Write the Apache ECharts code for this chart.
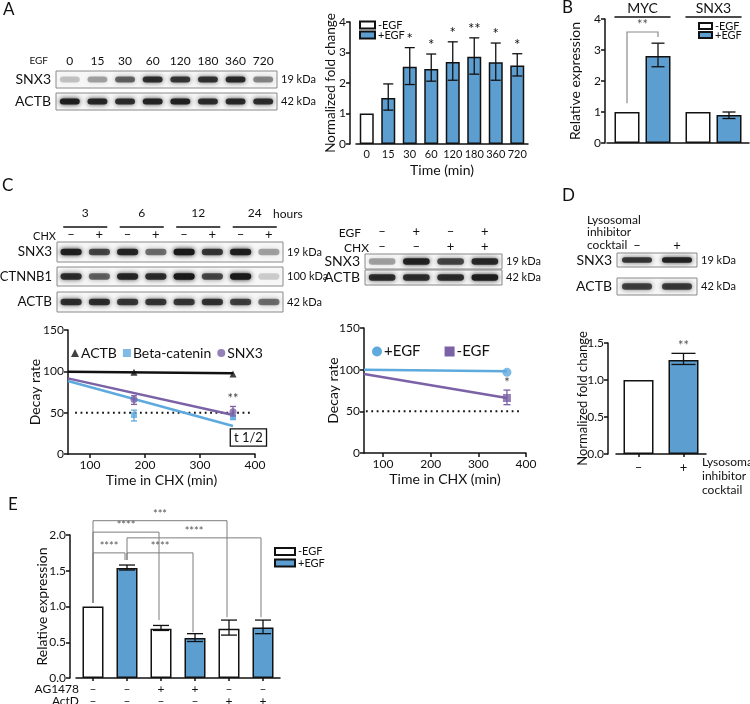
<!DOCTYPE html>
<html><head><meta charset="utf-8">
<script src="https://cdn.jsdelivr.net/npm/echarts@6/dist/echarts.min.js"></script>
<style>html,body{margin:0;padding:0;background:#fff}#c{width:750px;height:704px}</style>
</head><body><div id="c"></div>
<script>
// ================= DATA =================
// Panel A blot + bar chart
const timeCats   = ['0','15','30','60','120','180','360','720'];
const blotA_SNX3 = [0.22,0.35,0.60,0.85,0.80,0.82,0.88,0.45];
const blotA_ACTB = [0.95,0.90,0.85,0.90,0.92,0.85,0.88,0.85];
const foldMean   = [1.00,1.51,2.53,2.46,2.69,2.86,2.68,2.57];
const foldLow    = [null,1.11,1.95,2.06,2.09,2.29,2.09,2.23];
const foldHigh   = [null,1.97,3.16,2.95,3.35,3.48,3.31,2.96];
const foldStars  = ['','','*','*','*','**','*','*'];
const foldGroup  = ['-EGF','+EGF','+EGF','+EGF','+EGF','+EGF','+EGF','+EGF'];
// Panel B
const genes       = ['MYC','SNX3'];
const relMinus    = [1.00,1.00];
const relPlus     = [2.81,0.90];
const relPlusLow  = [2.46,0.79];
const relPlusHigh = [3.22,1.00];
const sigB        = [[0,1.28,3.58,3.42]]; // [gene, left base, top, right base]
const sigBLabel   = ['**'];
// Panel C left blot
const chxHours    = ['3','6','12','24'];
const chxSigns    = ['–','+','–','+','–','+','–','+'];
const blotC_SNX3  = [0.95,0.72,0.90,0.55,1.00,0.80,0.95,0.35];
const blotC_CTNNB1= [0.85,0.60,0.90,0.85,1.00,0.72,1.00,0.18];
const blotC_ACTB  = [0.85,0.85,0.80,0.80,0.80,0.82,0.75,0.55];
// Panel C left decay chart
const cxTicks     = [100,200,300,400];
const decayTime   = [180,360];
const actbDecay   = [98.8,96.8];
const ctnnb1Decay = [47.2,44.4];
const ctnnb1Low   = [40,42];
const ctnnb1High  = [53,46.5];
const snx3Decay   = [66,51];
const snx3Low     = [60,46];
const snx3High    = [70.5,57.5];
const decayStars  = ['','**'];
const fitActb     = [[60,99.6],[360,97.6]];
const fitCtnnb1   = [[60,88.3],[360,33.9]];
const fitSnx3     = [[60,91.5],[360,47.2]];
const halfLine    = [[73,50],[392,50]];
// Panel C middle blot + chart
const egfSigns    = ['–','+','–','+'];
const chxSigns2   = ['–','–','+','+'];
const blotM_SNX3  = [0.35,0.92,0.72,0.88];
const blotM_ACTB  = [0.85,0.85,0.85,0.95];
const egfTime     = [360];
const plusEgfDecay  = [96.8];
const minusEgfDecay = [66];
const minusEgfLow   = [58];
const minusEgfHigh  = [75.5];
const egfStars      = ['*'];
const fitPlusEgf  = [[60,100],[360,98]];
const fitMinusEgf = [[60,94.8],[360,66]];
const halfLine2   = [[64,50],[389,50]];
// Panel D
const lysoSigns   = ['–','+'];
const blotD_SNX3  = [0.80,0.92];
const blotD_ACTB  = [0.75,0.78];
const lysoMean    = [1.00,1.27];
const lysoLow     = [null,1.21];
const lysoHigh    = [null,1.36];
const lysoStars   = ['','**'];
// Panel E
const eMean   = [1.00,1.54,0.69,0.56,0.69,0.707];
const eLow    = [null,1.51,0.665,0.51,0.60,0.62];
const eHigh   = [null,1.58,0.735,0.62,0.81,0.81];
const eGroup  = ['-EGF','+EGF','-EGF','+EGF','-EGF','+EGF'];
const ag1478  = ['–','–','+','+','–','–'];
const actD    = ['–','–','–','–','+','+'];
const sigE    = [[0,1,1.75,1.05,1.65],[0,2,2.04,1.05,0.81],[0,4,2.20,1.05,0.85],[1,5,1.96,1.65,0.85],[1,3,1.75,1.65,0.64]];
const sigELabel = ['****','****','***','****','****'];

// ================= STYLE / BUILDERS =================
const FONT='Lato', INK='#111', BLUE='#5c9ecf', BLUE_L='#5eaade', PURPLE='#7b61a5', GRAY='#7d7d7d';
const grid=[], xAxis=[], yAxis=[], series=[], legend=[], graphic=[];
const G=o=>{grid.push(Object.assign({outerBoundsMode:'none'},o));return grid.length-1;};
const X=o=>{xAxis.push(o);return xAxis.length-1;};
const Y=o=>{yAxis.push(o);return yAxis.length-1;};
const lab=(fs,m,extra)=>Object.assign({fontSize:fs,margin:m,color:INK,fontFamily:FONT},extra||{});
const axLine={show:true,lineStyle:{color:INK,width:1.5}};
const axTick={show:true,length:4,lineStyle:{color:INK,width:1.5}};
const none={show:false};
const nameStyle=(fs)=>({fontSize:fs||14,color:INK,fontFamily:FONT});
const txt=(text,x,y,fs,align,va,fill)=>graphic.push({type:'text',x,y,silent:true,style:{text,font:fs+'px '+FONT,fill:fill||INK,align:align||'left',verticalAlign:va||'middle'}});

function bandItem(wf,hf){
  return (p,api)=>{
    const c=api.coord([api.value(0),api.value(1)]);
    const bw=api.size([1,0])[0]*wf, bh=api.size([0,1])[1]*hf, v=api.value(2);
    const col='rgba(25,25,25,'+v+')';
    return {type:'rect',shape:{x:c[0]-bw/2,y:c[1]-bh/2,width:bw,height:bh,r:bh/2},style:{fill:col,shadowBlur:5,shadowColor:col}};
  };
}
function blot(left,width,lanes,rows,wf,hf){
  return rows.map(r=>{
    const gi=G({left,width,top:r.top,height:r.h,show:true,borderColor:'#8a8a8a',borderWidth:1,backgroundColor:'#f7f7f7'});
    const xi=X({gridIndex:gi,type:'category',data:lanes,axisLine:none,axisTick:none,axisLabel:none,splitLine:none});
    const yi=Y({gridIndex:gi,type:'category',data:[r.name],axisLine:none,axisTick:none,splitLine:none,axisLabel:lab(r.fs||14,5)});
    Y({gridIndex:gi,type:'category',position:'right',data:[r.kda],axisLine:none,axisTick:none,splitLine:none,axisLabel:lab(11,4)});
    series.push({type:'custom',xAxisIndex:xi,yAxisIndex:yi,silent:true,clip:false,renderItem:bandItem(wf,hf),data:r.data.map((v,i)=>[i,0,v])});
    return {gi,xi,yi};
  });
}
function topRow(gi,data,offset,margin,fs){
  return X({gridIndex:gi,type:'category',position:'top',offset,data,axisLine:none,axisTick:none,splitLine:none,axisLabel:lab(fs,margin,{interval:0})});
}
function errItem(cap,stars,starFs,ox,col,starCol){
  return (p,api)=>{
    const lo=api.coord([api.value(0),api.value(1)]), hi=api.coord([api.value(0),api.value(2)]);
    const x=lo[0]+(ox||0), st={stroke:col||INK,lineWidth:1.3};
    const ch=[
      {type:'line',shape:{x1:x,y1:lo[1],x2:x,y2:hi[1]},style:st},
      {type:'line',shape:{x1:x-cap,y1:lo[1],x2:x+cap,y2:lo[1]},style:st},
      {type:'line',shape:{x1:x-cap,y1:hi[1],x2:x+cap,y2:hi[1]},style:st}];
    const s=stars&&stars[p.dataIndex];
    if(s) ch.push({type:'text',x:x,y:hi[1]-1,style:{text:s,font:starFs+'px '+FONT,fill:starCol||INK,align:'center',verticalAlign:'bottom'}});
    return {type:'group',children:ch};
  };
}
function bracketItem(labels,oxA,oxB){
  return (p,api)=>{
    const a=api.value(0), b=api.value(1);
    const pa=api.coord([a,api.value(3)]), pb=api.coord([b,api.value(4)]), pt=api.coord([a,api.value(2)]);
    const xa=pa[0]+oxA, xb=pb[0]+oxB;
    return {type:'group',children:[
      {type:'polyline',shape:{points:[[xa,pa[1]],[xa,pt[1]],[xb,pt[1]],[xb,pb[1]]]},style:{stroke:GRAY,lineWidth:1,fill:null}},
      {type:'text',x:(xa+xb)/2,y:pt[1]-1,style:{text:labels[p.dataIndex],font:'11px '+FONT,fill:'#555',align:'center',verticalAlign:'bottom'}}]};
  };
}
const barStyle=c=>({color:c,borderColor:INK,borderWidth:1.5});
const legendItem=(name,left,top,w,h,fs)=>legend.push({data:[name],left,top,padding:0,itemWidth:w,itemHeight:h,icon:'rect',selectedMode:false,itemGap:0,textStyle:{fontSize:fs,lineHeight:h+2,color:INK,fontFamily:FONT,padding:[0,0,0,-2]}});

// ================= PANEL A =================
txt('A',3,10,17);
{
  const b=blot(56,221,timeCats,[{name:'SNX3',kda:'19 kDa',top:71,h:17,data:blotA_SNX3},{name:'ACTB',kda:'42 kDa',top:93,h:17,data:blotA_ACTB}],0.72,0.36);
  topRow(b[0].gi,timeCats,0,4,12);
  txt('EGF',48,61,10,'right');
  const gi=G({left:356,top:22,width:172,height:122});
  const xi=X({gridIndex:gi,type:'category',data:timeCats,axisLine:axLine,axisTick:none,axisLabel:lab(11,5,{interval:0}),
    name:'Time (min)',nameLocation:'middle',nameGap:19,nameMoveOverlap:false,nameTextStyle:nameStyle(14)});
  const yi=Y({gridIndex:gi,type:'value',min:0,max:4,interval:1,offset:6,axisLine:axLine,axisTick:axTick,splitLine:none,axisLabel:lab(12,4),
    name:'Normalized fold change',nameLocation:'middle',nameGap:12,nameMoveOverlap:false,nameTextStyle:nameStyle(13.5)});
  ['-EGF','+EGF'].forEach(g=>series.push({type:'bar',name:g,xAxisIndex:xi,yAxisIndex:yi,barWidth:14,barGap:'-100%',
    itemStyle:barStyle(g==='-EGF'?'#fff':BLUE),data:foldMean.map((v,i)=>foldGroup[i]===g?v:'-')}));
  const idx=foldLow.map((v,i)=>i).filter(i=>foldLow[i]!==null);
  series.push({type:'custom',xAxisIndex:xi,yAxisIndex:yi,z:5,clip:false,silent:true,renderItem:errItem(5,idx.map(i=>foldStars[i]),15),
    data:idx.map(i=>[i,foldLow[i],foldHigh[i]])});
  legendItem('-EGF',359,19.5,15,7,11);
  legendItem('+EGF',359,29.5,15,7,11);
}

// ================= PANEL B =================
txt('B',562,8,17);
{
  const gi=G({left:607,top:19,width:142,height:124});
  const xi=X({gridIndex:gi,type:'category',data:genes,axisLine:axLine,axisTick:none,axisLabel:none});
  X({gridIndex:gi,type:'category',position:'top',data:genes,axisLine:none,axisTick:none,axisLabel:lab(14,4)});
  const yi=Y({gridIndex:gi,type:'value',min:0,max:4,interval:1,offset:2,axisLine:axLine,axisTick:axTick,splitLine:none,axisLabel:lab(12,4),
    name:'Relative expression',nameLocation:'middle',nameGap:23,nameMoveOverlap:false,nameTextStyle:nameStyle(14)});
  series.push({type:'bar',name:'-EGF',xAxisIndex:xi,yAxisIndex:yi,barWidth:25,barGap:'24%',itemStyle:barStyle('#fff'),data:relMinus});
  series.push({type:'bar',name:'+EGF',xAxisIndex:xi,yAxisIndex:yi,barWidth:25,barGap:'24%',itemStyle:barStyle(BLUE),data:relPlus});
  series.push({type:'custom',xAxisIndex:xi,yAxisIndex:yi,z:5,clip:false,silent:true,renderItem:errItem(6.5,null,12,15.5),
    data:genes.map((g,i)=>[i,relPlusLow[i],relPlusHigh[i]])});
  series.push({type:'custom',xAxisIndex:xi,yAxisIndex:yi,z:5,clip:false,silent:true,
    renderItem:(p,api)=>{const c=api.coord([api.value(0),4]);const h=api.size([1,0])[0]*0.395;
      return {type:'line',shape:{x1:c[0]-h,y1:c[1]-2,x2:c[0]+h,y2:c[1]-2},style:{stroke:INK,lineWidth:1.3}};},
    data:genes.map((g,i)=>[i,4])});
  series.push({type:'custom',xAxisIndex:xi,yAxisIndex:yi,z:5,clip:false,silent:true,
    renderItem:(p,api)=>{const a=api.coord([api.value(0),api.value(1)]),t=api.coord([api.value(0),api.value(2)]),b=api.coord([api.value(0),api.value(3)]);
      const xa=a[0]-15.5,xb=a[0]+15.5;
      return {type:'group',children:[{type:'polyline',shape:{points:[[xa,a[1]],[xa,t[1]],[xb,t[1]],[xb,b[1]]]},style:{stroke:'#8a8a8a',lineWidth:1.2,fill:null}},
        {type:'text',x:(xa+xb)/2,y:t[1]-1,style:{text:sigBLabel[p.dataIndex],font:'13px '+FONT,fill:'#555',align:'center',verticalAlign:'bottom'}}]};},
    data:sigB});
  legendItem('-EGF',698,20.5,13,6,11);
  legendItem('+EGF',698,29.5,13,6,11);
}

// ================= PANEL C (blots) =================
txt('C',2,186,17);
{
  const b=blot(57,226,chxSigns,[{name:'SNX3',kda:'19 kDa',top:242,h:20,data:blotC_SNX3,fs:13.5},{name:'CTNNB1',kda:'100 kDa',top:267,h:19,data:blotC_CTNNB1,fs:13},{name:'ACTB',kda:'42 kDa',top:292,h:20,data:blotC_ACTB,fs:13.5}],0.75,0.33);
  topRow(b[0].gi,chxSigns,0,1,13);
  const hx=topRow(b[0].gi,chxHours,20,3,12);
  series.push({type:'custom',xAxisIndex:hx,yAxisIndex:b[0].yi,clip:false,silent:true,
    renderItem:(p,api)=>{const c=api.coord([api.value(0),0]);const top=c[1]-api.size([0,1])[1]/2;const h=api.size([1,0])[0]*0.39;
      return {type:'line',shape:{x1:c[0]-h,y1:top-15,x2:c[0]+h,y2:top-15},style:{stroke:INK,lineWidth:1.3}};},
    data:chxHours.map((h,i)=>[i,0])});
  txt('hours',273,214,12);
  txt('CHX',56,236,11,'right');

  const m=blot(365,137,egfSigns,[{name:'SNX3',kda:'19 kDa',top:254,h:15,data:blotM_SNX3},{name:'ACTB',kda:'42 kDa',top:270,h:15,data:blotM_ACTB}],0.78,0.42);
  topRow(m[0].gi,chxSigns2,0,1,13);
  topRow(m[0].gi,egfSigns,15,1,13);
  txt('EGF',361,233,12,'right');
  txt('CHX',369,248,12,'right');
}
// ================= PANEL C (charts) =================
function decayAxes(left,top,width,height,gap){
  const gi=G({left,top,width,height});
  const xi=X({gridIndex:gi,type:'value',min:60,max:400,axisLine:axLine,splitLine:none,
    axisTick:Object.assign({},axTick,{customValues:cxTicks}),axisLabel:lab(12,5,{customValues:cxTicks}),
    name:'Time in CHX (min)',nameLocation:'middle',nameGap:19,nameMoveOverlap:false,nameTextStyle:nameStyle(14)});
  const yi=Y({gridIndex:gi,type:'value',min:0,max:150,interval:50,axisLine:axLine,axisTick:axTick,splitLine:none,axisLabel:lab(12,4),
    name:'Decay rate',nameLocation:'middle',nameGap:gap,nameMoveOverlap:false,nameTextStyle:nameStyle(14)});
  return {xi,yi};
}
const fitLine=(ax,data,color)=>series.push({type:'line',xAxisIndex:ax.xi,yAxisIndex:ax.yi,data,symbol:'none',silent:true,lineStyle:{color,width:2.5},z:2});
const dotLine=(ax,data)=>series.push({type:'line',xAxisIndex:ax.xi,yAxisIndex:ax.yi,data,symbol:'none',silent:true,lineStyle:{color:INK,width:2,type:[1.8,3.6]},z:1});
{
  const ax=decayAxes(68,330,187,124,26);
  dotLine(ax,halfLine);
  fitLine(ax,fitActb,INK);fitLine(ax,fitCtnnb1,BLUE_L);fitLine(ax,fitSnx3,PURPLE);
  series.push({type:'scatter',name:'ACTB',xAxisIndex:ax.xi,yAxisIndex:ax.yi,symbol:'triangle',symbolSize:7,itemStyle:{color:INK},z:4,data:decayTime.map((t,i)=>[t,actbDecay[i]])});
  series.push({type:'scatter',name:'Beta-catenin',xAxisIndex:ax.xi,yAxisIndex:ax.yi,symbol:'rect',symbolSize:6,itemStyle:{color:BLUE_L},z:4,data:decayTime.map((t,i)=>[t,ctnnb1Decay[i]])});
  series.push({type:'scatter',name:'SNX3',xAxisIndex:ax.xi,yAxisIndex:ax.yi,symbol:'circle',symbolSize:7,itemStyle:{color:PURPLE},z:4,data:decayTime.map((t,i)=>[t,snx3Decay[i]])});
  series.push({type:'custom',xAxisIndex:ax.xi,yAxisIndex:ax.yi,z:5,clip:false,silent:true,renderItem:errItem(3,null,11,0,BLUE_L),data:decayTime.map((t,i)=>[t,ctnnb1Low[i],ctnnb1High[i]])});
  series.push({type:'custom',xAxisIndex:ax.xi,yAxisIndex:ax.yi,z:5,clip:false,silent:true,renderItem:errItem(3,decayStars,13,0,PURPLE,'#444'),data:decayTime.map((t,i)=>[t,snx3Low[i],snx3High[i]])});
  // "t 1/2" annotation anchored in data coordinates
  series.push({type:'custom',xAxisIndex:ax.xi,yAxisIndex:ax.yi,z:6,clip:false,silent:true,data:[[388,20]],
    renderItem:(p,api)=>{const c=api.coord([api.value(0),api.value(1)]);
      return {type:'text',x:c[0],y:c[1],style:{text:'t 1/2',font:'13px '+FONT,fill:INK,align:'center',verticalAlign:'middle',
        backgroundColor:'#fff',borderColor:INK,borderWidth:1.3,padding:[2,3,1,3]}};}});
  legend.push({left:71,top:346,padding:0,itemWidth:8,itemHeight:8,itemGap:6,selectedMode:false,textStyle:{fontSize:14,color:INK,fontFamily:FONT,padding:[0,0,0,-3]},
    data:[{name:'ACTB',icon:'triangle',itemStyle:{color:INK,borderWidth:0}},{name:'Beta-catenin',icon:'rect',itemStyle:{color:BLUE_L,borderWidth:0}},{name:'SNX3',icon:'circle',itemStyle:{color:PURPLE,borderWidth:0}}]});
}
{
  const ax=decayAxes(364,328,162,125,24);
  dotLine(ax,halfLine2);
  fitLine(ax,fitPlusEgf,BLUE_L);fitLine(ax,fitMinusEgf,PURPLE);
  series.push({type:'scatter',xAxisIndex:ax.xi,yAxisIndex:ax.yi,symbol:'circle',symbolSize:9,itemStyle:{color:BLUE_L},z:4,data:egfTime.map((t,i)=>[t,plusEgfDecay[i]])});
  series.push({type:'scatter',xAxisIndex:ax.xi,yAxisIndex:ax.yi,symbol:'rect',symbolSize:8,itemStyle:{color:PURPLE},z:4,data:egfTime.map((t,i)=>[t,minusEgfDecay[i]])});
  series.push({type:'custom',xAxisIndex:ax.xi,yAxisIndex:ax.yi,z:5,clip:false,silent:true,renderItem:errItem(3.5,egfStars,13,0,PURPLE,'#444'),data:egfTime.map((t,i)=>[t,minusEgfLow[i],minusEgfHigh[i]])});
  legend.push({left:372,top:344,padding:0,itemWidth:10,itemHeight:10,itemGap:24,selectedMode:false,textStyle:{fontSize:15,color:INK,fontFamily:FONT,padding:[0,0,0,-3]},
    data:[{name:'+EGF',icon:'circle',itemStyle:{color:BLUE_L,borderWidth:0}},{name:'-EGF',icon:'rect',itemStyle:{color:PURPLE,borderWidth:0}}]});
}

// ================= PANEL D =================
txt('D',562,196,17);
{
  const b=blot(617,80,lysoSigns,[{name:'SNX3',kda:'19 kDa',top:253,h:14,data:blotD_SNX3},{name:'ACTB',kda:'42 kDa',top:278,h:17,data:blotD_ACTB}],0.75,0.38);
  topRow(b[0].gi,lysoSigns,0,1,13);
  txt('Lysosomal',587,220,12);txt('inhibitor',587,232.5,12);txt('cocktail',587,245,12);
  const gi=G({left:616,top:343,width:90,height:111});
  const xi=X({gridIndex:gi,type:'category',data:lysoSigns,axisLine:axLine,axisTick:Object.assign({},axTick,{alignWithLabel:true,length:3}),axisLabel:lab(13,7)});
  const yi=Y({gridIndex:gi,type:'value',min:0,max:1.5,interval:0.5,offset:8,axisLine:axLine,axisTick:axTick,splitLine:none,axisLabel:lab(12,4,{formatter:v=>v.toFixed(1)}),
    name:'Normalized fold change',nameLocation:'middle',nameGap:19,nameMoveOverlap:false,nameTextStyle:nameStyle(13)});
  series.push({type:'bar',xAxisIndex:xi,yAxisIndex:yi,barWidth:30,data:lysoMean.map((v,i)=>({value:v,itemStyle:barStyle(i?BLUE:'#fff')}))});
  const idx=lysoLow.map((v,i)=>i).filter(i=>lysoLow[i]!==null);
  series.push({type:'custom',xAxisIndex:xi,yAxisIndex:yi,z:5,clip:false,silent:true,renderItem:errItem(12,idx.map(i=>lysoStars[i]),13,0,INK,'#555'),data:idx.map(i=>[i,lysoLow[i],lysoHigh[i]])});
  txt('Lysosomal',702,462,12);txt('inhibitor',702,476,12);txt('cocktail',702,490,12);
}

// ================= PANEL E =================
txt('E',8,505,17);
{
  const cats=eMean.map((v,i)=>String(i+1));
  const gi=G({left:76,top:535,width:204,height:143});
  const xi=X({gridIndex:gi,type:'category',data:cats,axisLine:axLine,axisTick:Object.assign({},axTick,{alignWithLabel:true,length:3,interval:0}),axisLabel:none});
  X({gridIndex:gi,type:'category',position:'bottom',offset:0,data:ag1478,axisLine:none,axisTick:none,axisLabel:lab(12,5,{interval:0})});
  X({gridIndex:gi,type:'category',position:'bottom',offset:12,data:actD,axisLine:none,axisTick:none,axisLabel:lab(12,5,{interval:0})});
  const yi=Y({gridIndex:gi,type:'value',min:0,max:2,interval:0.5,offset:6,axisLine:axLine,axisTick:axTick,splitLine:none,axisLabel:lab(12,4,{formatter:v=>v.toFixed(1)}),
    name:'Relative expression',nameLocation:'middle',nameGap:21,nameMoveOverlap:false,nameTextStyle:nameStyle(14)});
  ['-EGF','+EGF'].forEach(g=>series.push({type:'bar',name:g,xAxisIndex:xi,yAxisIndex:yi,barWidth:21,barGap:'-100%',
    itemStyle:barStyle(g==='-EGF'?'#fff':BLUE),data:eMean.map((v,i)=>eGroup[i]===g?v:'-')}));
  const idx=eLow.map((v,i)=>i).filter(i=>eLow[i]!==null);
  series.push({type:'custom',xAxisIndex:xi,yAxisIndex:yi,z:5,clip:false,silent:true,renderItem:errItem(8,null,12),data:idx.map(i=>[i,eLow[i],eHigh[i]])});
  series.push({type:'custom',xAxisIndex:xi,yAxisIndex:yi,z:6,clip:false,silent:true,renderItem:bracketItem(sigELabel,0,-2),data:sigE});
  legendItem('-EGF',274,546,20,7,11);
  legendItem('+EGF',274,557.5,20,7,11);
  txt('AG1478',79,689,12,'right');
  txt('ActD',79,701,12,'right');
}

const chart=echarts.init(document.getElementById('c'),null,{renderer:'canvas'});
chart.setOption({animation:false,backgroundColor:'#fff',textStyle:{fontFamily:FONT,color:INK},grid,xAxis,yAxis,series,legend,graphic});
</script></body></html>
